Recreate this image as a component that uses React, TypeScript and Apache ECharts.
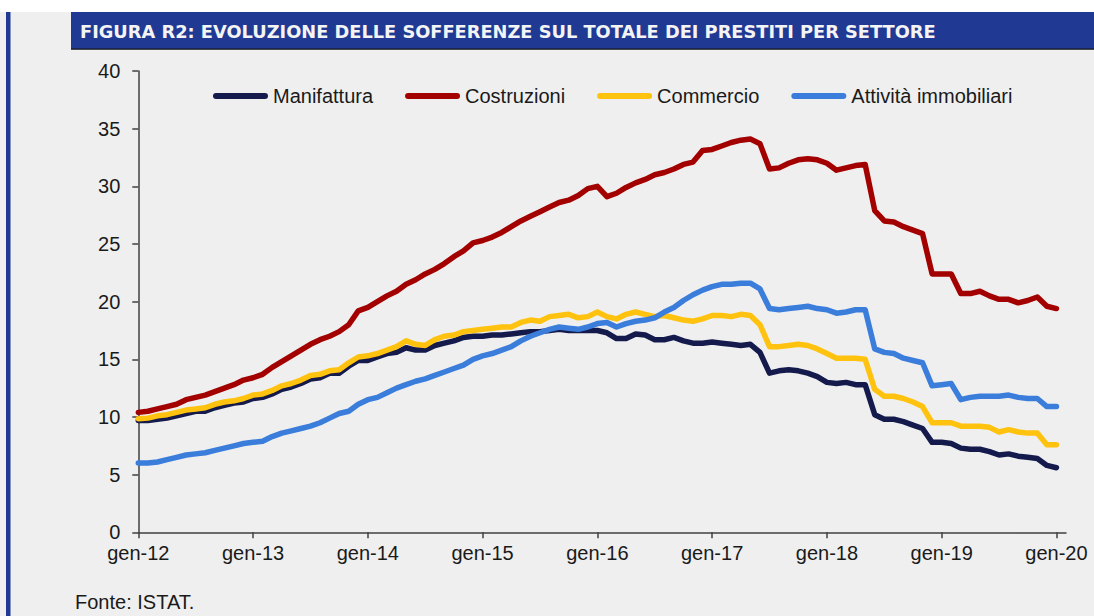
import React, { useEffect, useRef } from "react";
import * as echarts from "echarts";

const MONTHS = ["gen", "feb", "mar", "apr", "mag", "giu", "lug", "ago", "set", "ott", "nov", "dic"];
const YEARS = ["12", "13", "14", "15", "16", "17", "18", "19", "20"];

const SERIES_NAMES = ["Manifattura", "Costruzioni", "Commercio", "Attività immobiliari"];

const manifattura = [
  9.7, 9.7, 9.8, 9.9, 10.1, 10.3, 10.5, 10.5, 10.8, 11.0, 11.2, 11.3,
  11.6, 11.7, 12.0, 12.4, 12.6, 12.9, 13.3, 13.4, 13.8, 13.8, 14.4, 14.9,
  14.9, 15.2, 15.5, 15.6, 16.0, 15.8, 15.8, 16.2, 16.4, 16.6, 16.9, 17.0,
  17.0, 17.1, 17.1, 17.2, 17.3, 17.4, 17.4, 17.5, 17.6, 17.5, 17.5, 17.5,
  17.5, 17.3, 16.8, 16.8, 17.2, 17.1, 16.7, 16.7, 16.9, 16.6, 16.4, 16.4,
  16.5, 16.4, 16.3, 16.2, 16.3, 15.6, 13.8, 14.0, 14.1, 14.0, 13.8, 13.5,
  13.0, 12.9, 13.0, 12.8, 12.8, 10.2, 9.8, 9.8, 9.6, 9.3, 9.0, 7.8,
  7.8, 7.7, 7.3, 7.2, 7.2, 7.0, 6.7, 6.8, 6.6, 6.5, 6.4, 5.8, 5.6,
];

const costruzioni = [
  10.4, 10.5, 10.7, 10.9, 11.1, 11.5, 11.7, 11.9, 12.2, 12.5, 12.8, 13.2,
  13.4, 13.7, 14.3, 14.8, 15.3, 15.8, 16.3, 16.7, 17.0, 17.4, 18.0, 19.2,
  19.5, 20.0, 20.5, 20.9, 21.5, 21.9, 22.4, 22.8, 23.3, 23.9, 24.4, 25.1,
  25.3, 25.6, 26.0, 26.5, 27.0, 27.4, 27.8, 28.2, 28.6, 28.8, 29.2, 29.8,
  30.0, 29.1, 29.4, 29.9, 30.3, 30.6, 31.0, 31.2, 31.5, 31.9, 32.1, 33.1,
  33.2, 33.5, 33.8, 34.0, 34.1, 33.7, 31.5, 31.6, 32.0, 32.3, 32.4, 32.3,
  32.0, 31.4, 31.6, 31.8, 31.9, 27.9, 27.0, 26.9, 26.5, 26.2, 25.9, 22.4,
  22.4, 22.4, 20.7, 20.7, 20.9, 20.5, 20.2, 20.2, 19.9, 20.1, 20.4, 19.6, 19.4,
];

const commercio = [
  9.85, 9.9, 10.1, 10.2, 10.4, 10.6, 10.7, 10.8, 11.1, 11.3, 11.4, 11.6,
  11.9, 12.0, 12.3, 12.7, 12.9, 13.2, 13.6, 13.7, 14.0, 14.1, 14.7, 15.2,
  15.3, 15.5, 15.8, 16.1, 16.6, 16.3, 16.2, 16.7, 17.0, 17.1, 17.4, 17.5,
  17.6, 17.7, 17.8, 17.8, 18.2, 18.4, 18.3, 18.7, 18.8, 18.9, 18.6, 18.7,
  19.1, 18.7, 18.5, 18.9, 19.1, 18.9, 18.7, 18.8, 18.6, 18.4, 18.3, 18.5,
  18.8, 18.8, 18.7, 18.9, 18.8, 18.0, 16.1, 16.1, 16.2, 16.3, 16.2, 15.9,
  15.5, 15.1, 15.1, 15.1, 15.0, 12.4, 11.8, 11.8, 11.6, 11.3, 10.9, 9.5,
  9.5, 9.5, 9.2, 9.2, 9.2, 9.1, 8.7, 8.9, 8.7, 8.6, 8.6, 7.6, 7.6,
];

const attivitaImmobiliari = [
  6.0, 6.0, 6.1, 6.3, 6.5, 6.7, 6.8, 6.9, 7.1, 7.3, 7.5, 7.7,
  7.8, 7.9, 8.3, 8.6, 8.8, 9.0, 9.2, 9.5, 9.9, 10.3, 10.5, 11.1,
  11.5, 11.7, 12.1, 12.5, 12.8, 13.1, 13.3, 13.6, 13.9, 14.2, 14.5, 15.0,
  15.3, 15.5, 15.8, 16.1, 16.6, 17.0, 17.3, 17.6, 17.8, 17.7, 17.6, 17.8,
  18.1, 18.2, 17.8, 18.1, 18.3, 18.4, 18.6, 19.1, 19.5, 20.1, 20.6, 21.0,
  21.3, 21.5, 21.5, 21.6, 21.6, 21.1, 19.4, 19.3, 19.4, 19.5, 19.6, 19.4,
  19.3, 19.0, 19.1, 19.3, 19.3, 15.9, 15.6, 15.5, 15.1, 14.9, 14.7, 12.7,
  12.8, 12.9, 11.5, 11.7, 11.8, 11.8, 11.8, 11.9, 11.7, 11.6, 11.6, 10.9, 10.9,
];

const COLORS = ["#141a4b", "#a30000", "#ffc20e", "#3a7ddb"];

const TITLE = "FIGURA R2: EVOLUZIONE DELLE SOFFERENZE SUL TOTALE DEI PRESTITI PER SETTORE";
const SOURCE = "Fonte: ISTAT.";

// Monthly categories from gen-12 to feb-20 (one empty slot after the last point)
const categories: string[] = [];
YEARS.forEach((y) => MONTHS.forEach((m) => categories.push(`${m}-${y}`)));
const axisCategories = categories.slice(0, 98);

const FONT = '"Liberation Sans", Arial, sans-serif';

export default function App() {
  const ref = useRef<HTMLDivElement>(null);

  useEffect(() => {
    if (!ref.current) return;
    const chart = echarts.init(ref.current, undefined, { renderer: "svg" });
    const data = [manifattura, costruzioni, commercio, attivitaImmobiliari];
    const capIcon = "path://M3,0 L52,0 A3,3 0 0 1 52,6 L3,6 A3,3 0 0 1 3,0 Z";

    chart.setOption({
      animation: false,
      backgroundColor: "#efefef",
      textStyle: { fontFamily: FONT },
      graphic: [
        { type: "rect", left: 0, top: 0, shape: { width: 1094, height: 12 }, style: { fill: "#ffffff" }, silent: true },
        { type: "rect", left: 6, top: 12, shape: { width: 4.5, height: 604 }, style: { fill: "#203a94" }, silent: true },
        { type: "rect", left: 71, top: 12, shape: { width: 1023, height: 37 }, style: { fill: "#203a94" }, silent: true },
        { type: "rect", left: 71, top: 48.5, shape: { width: 1023, height: 1.2 }, style: { fill: "#111111" }, silent: true },
        {
          type: "text",
          x: 80,
          y: 31,
          style: {
            text: TITLE,
            fill: "#f4f4f4",
            font: 'bold 17.8px "DejaVu Sans", sans-serif',
            verticalAlign: "middle",
            align: "left",
          },
          silent: true,
        },
        {
          type: "text",
          x: 75,
          y: 602,
          style: {
            text: SOURCE,
            fill: "#1a1a1a",
            font: `20px ${FONT}`,
            verticalAlign: "middle",
            align: "left",
          },
          silent: true,
        },
      ],
      legend: {
        left: 213,
        top: 86,
        padding: 0,
        itemWidth: 55,
        itemHeight: 6,
        itemGap: 32,
        icon: capIcon,
        data: SERIES_NAMES,
        textStyle: { fontSize: 20, color: "#1a1a1a", fontFamily: FONT },
      },
      grid: { left: 138.3, top: 71, right: 28, bottom: 83.7, containLabel: false },
      xAxis: {
        type: "category",
        data: axisCategories,
        boundaryGap: false,
        axisLine: { show: true, lineStyle: { color: "#404040", width: 1.5 } },
        axisTick: {
          show: true,
          length: 6,
          interval: 11,
          lineStyle: { color: "#404040", width: 1.5 },
        },
        axisLabel: {
          interval: 11,
          margin: 11,
          fontSize: 20,
          color: "#1a1a1a",
          fontFamily: FONT,
        },
        splitLine: { show: false },
      },
      yAxis: {
        type: "value",
        min: 0,
        max: 40,
        interval: 5,
        axisLine: { show: true, lineStyle: { color: "#404040", width: 1.5 } },
        axisTick: { show: true, length: 6, lineStyle: { color: "#404040", width: 1.5 } },
        axisLabel: { margin: 18, fontSize: 20, color: "#1a1a1a", fontFamily: FONT },
        splitLine: { show: false },
      },
      series: SERIES_NAMES.map((name, k) => ({
        name,
        type: "line",
        data: data[k],
        showSymbol: false,
        symbol: "none",
        color: COLORS[k],
        lineStyle: { width: 5.5, color: COLORS[k], cap: "round", join: "round" },
        z: 2 + k,
      })),
    });

    return () => chart.dispose();
  }, []);

  return (
    <div
      ref={ref}
      style={{ position: "absolute", left: 0, top: 0, width: 1094, height: 616 }}
    />
  );
}
